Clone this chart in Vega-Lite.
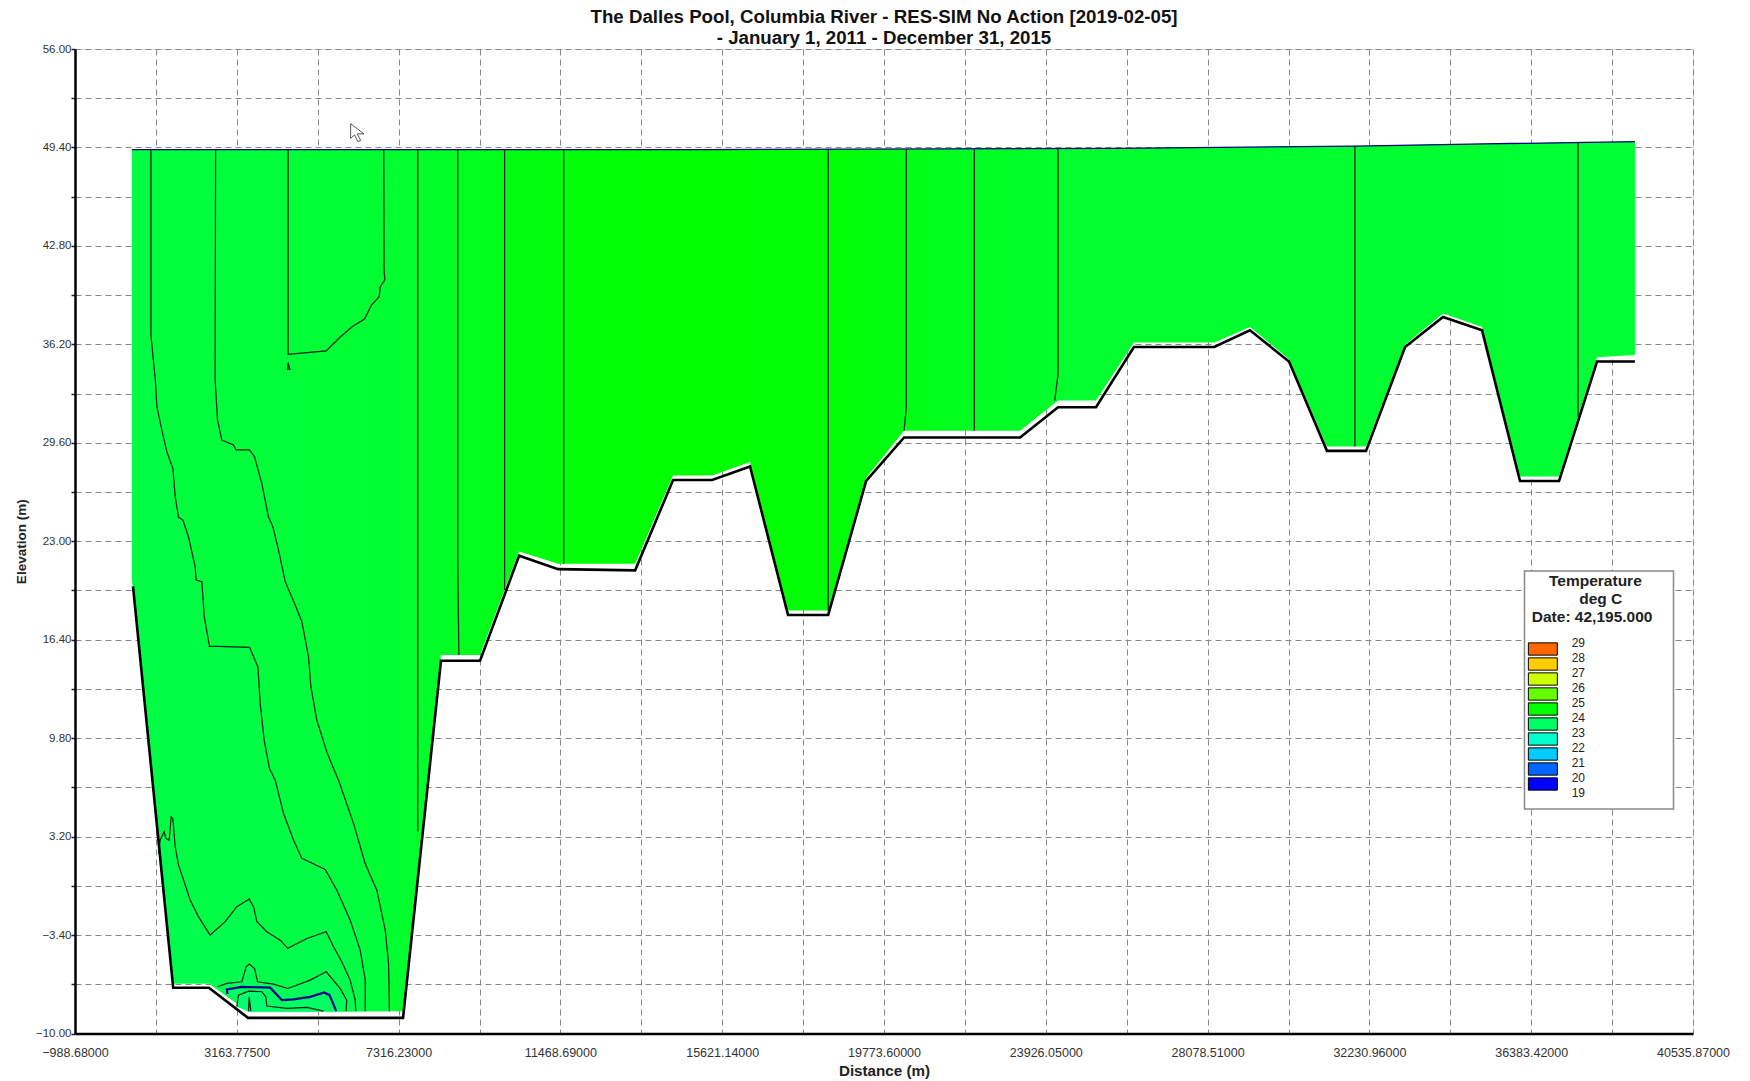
{"$schema":"https://vega.github.io/schema/vega-lite/v6.json","width":1618,"height":984.5,"autosize":{"type":"none"},"padding":{"left":75,"top":49,"right":57,"bottom":47.5},"background":"white",
"config":{"legend":{"strokeWidth":1.5}},
"title":{"text":["The Dalles Pool, Columbia River - RES-SIM No Action [2019-02-05]","- January 1, 2011 - December 31, 2015"],"font":"Liberation Sans","fontSize":18.7,"fontWeight":"bold","color":"#111","anchor":"middle","lineHeight":21,"offset":-5},
"transform":[{"window":[{"op":"row_number","as":"seq"}]}],
"encoding":{"x":{"field":"distance","type":"quantitative","scale":{"domain":[-988.68,40535.87],"nice":false,"zero":false},"title":"Distance (m)","axis":{"values":[-988.68,1087.5475,3163.775,5240.0025,7316.23,9392.46,11468.69,13544.915,15621.14,17697.37,19773.6,21849.825,23926.05,26002.28,28078.51,30154.735,32230.96,34307.19,36383.42,38459.645,40535.87],"labelExpr":"round((datum.value+988.68)/2076.2275)%2==0?format(datum.value,'.5f'):''","labelOverlap":false,"labelFlush":false,"labelBound":false,"labelFont":"Liberation Sans","labelFontSize":12.5,"labelColor":"#333","labelPadding":13,"ticks":false,"domainColor":"#000","domainWidth":2.5,"grid":true,"gridColor":"#888","gridDash":[6,4],"gridWidth":1,"titleFont":"Liberation Sans","titleFontSize":15.2,"titleFontWeight":"bold","titleColor":"#222","titlePadding":4}},
"y":{"field":"elevation","type":"quantitative","scale":{"domain":[-10,56],"nice":false,"zero":false},"title":"Elevation (m)","axis":{"values":[-10,-6.7,-3.4,-0.1,3.2,6.5,9.8,13.1,16.4,19.7,23,26.3,29.6,32.9,36.2,39.5,42.8,46.1,49.4,52.7,56],"labelExpr":"round((datum.value+10)/3.3)%2==0?format(datum.value,'.2f'):''","labelOverlap":false,"labelFlush":false,"labelBound":false,"labelFont":"Liberation Sans","labelFontSize":11.5,"labelColor":"#333","labelPadding":0,"tickColor":"#222","tickSize":4,"tickWidth":1.5,"domainColor":"#000","domainWidth":2.5,"grid":true,"gridColor":"#888","gridDash":[6,4],"gridWidth":1,"titleFont":"Liberation Sans","titleFontSize":13.5,"titleFontWeight":"bold","titleColor":"#222","titlePadding":7}},
"order":{"field":"seq","type":"quantitative"}},
"datasets":{
"section":[{"distance":471.8,"elevation":49.26},{"distance":15133.9,"elevation":49.26},{"distance":25729.6,"elevation":49.34},{"distance":31886.6,"elevation":49.49},{"distance":35179.6,"elevation":49.64},{"distance":39045.8,"elevation":49.79},{"distance":39045.8,"elevation":35.49},{"distance":38072.1,"elevation":35.34},{"distance":37098.5,"elevation":27.34},{"distance":36096.2,"elevation":27.34},{"distance":35122.6,"elevation":37.37},{"distance":34120.2,"elevation":38.26},{"distance":33146.6,"elevation":36.17},{"distance":32144.3,"elevation":29.36},{"distance":31142,"elevation":29.36},{"distance":30168.3,"elevation":35.2},{"distance":29166,"elevation":37.37},{"distance":28249.6,"elevation":36.32},{"distance":26187.8,"elevation":36.32},{"distance":25214.1,"elevation":32.43},{"distance":24240.5,"elevation":32.43},{"distance":23266.8,"elevation":30.41},{"distance":20288.6,"elevation":30.41},{"distance":19314.9,"elevation":27.26},{"distance":18341.3,"elevation":18.36},{"distance":17310.3,"elevation":18.36},{"distance":16336.7,"elevation":28.31},{"distance":15363,"elevation":27.41},{"distance":14360.7,"elevation":27.41},{"distance":13387.1,"elevation":21.5},{"distance":11411.1,"elevation":21.5},{"distance":10408.8,"elevation":22.32},{"distance":9406.5,"elevation":15.37},{"distance":8404.2,"elevation":15.37},{"distance":7430.6,"elevation":-8.5},{"distance":3450,"elevation":-8.5},{"distance":2447.7,"elevation":-6.63},{"distance":1531.3,"elevation":-6.63},{"distance":500.4,"elevation":19.97},{"distance":471.8,"elevation":20.38}],
"bands":[
{"band":"b2","distance":471.8,"elevation":49.26},{"band":"b2","distance":2619.6,"elevation":49.26},{"band":"b2","distance":2608.1,"elevation":33.81},{"band":"b2","distance":2668.2,"elevation":31.13},{"band":"b2","distance":2779.9,"elevation":29.78},{"band":"b2","distance":3077.7,"elevation":29.46},{"band":"b2","distance":3146.5,"elevation":29.12},{"band":"b2","distance":3490.1,"elevation":29.12},{"band":"b2","distance":3619,"elevation":28.67},{"band":"b2","distance":3805.1,"elevation":26.88},{"band":"b2","distance":3976.9,"elevation":24.64},{"band":"b2","distance":4088.6,"elevation":23.98},{"band":"b2","distance":4234.6,"elevation":22.41},{"band":"b2","distance":4406.5,"elevation":20.29},{"band":"b2","distance":4661.3,"elevation":18.72},{"band":"b2","distance":4833.2,"elevation":17.61},{"band":"b2","distance":5005,"elevation":15.26},{"band":"b2","distance":5065.1,"elevation":13.25},{"band":"b2","distance":5216.9,"elevation":11.01},{"band":"b2","distance":5474.6,"elevation":8.88},{"band":"b2","distance":5646.5,"elevation":7.77},{"band":"b2","distance":5772.5,"elevation":6.99},{"band":"b2","distance":6159.1,"elevation":4.09},{"band":"b2","distance":6456.9,"elevation":1.4},{"band":"b2","distance":6757.6,"elevation":-0.39},{"band":"b2","distance":6972.4,"elevation":-3.07},{"band":"b2","distance":7058.3,"elevation":-5.3},{"band":"b2","distance":7081.2,"elevation":-8.5},{"band":"b2","distance":3450,"elevation":-8.5},{"band":"b2","distance":2447.7,"elevation":-6.63},{"band":"b2","distance":1531.3,"elevation":-6.63},{"band":"b2","distance":500.4,"elevation":19.97},{"band":"b2","distance":471.8,"elevation":20.38},
{"band":"b1","distance":471.8,"elevation":49.26},{"band":"b1","distance":958.6,"elevation":49.26},{"band":"b1","distance":958.6,"elevation":36.84},{"band":"b1","distance":1073.1,"elevation":33.81},{"band":"b1","distance":1113.2,"elevation":32.02},{"band":"b1","distance":1239.2,"elevation":30.46},{"band":"b1","distance":1368.1,"elevation":29.01},{"band":"b1","distance":1522.7,"elevation":27.88},{"band":"b1","distance":1582.9,"elevation":25.99},{"band":"b1","distance":1668.8,"elevation":24.6},{"band":"b1","distance":1780.5,"elevation":24.42},{"band":"b1","distance":1923.6,"elevation":23.3},{"band":"b1","distance":2095.5,"elevation":21.29},{"band":"b1","distance":2121.3,"elevation":20.4},{"band":"b1","distance":2267.3,"elevation":20.29},{"band":"b1","distance":2327.4,"elevation":17.94},{"band":"b1","distance":2462,"elevation":15.97},{"band":"b1","distance":3490.1,"elevation":15.89},{"band":"b1","distance":3704.9,"elevation":14.59},{"band":"b1","distance":3765,"elevation":12.13},{"band":"b1","distance":3865.3,"elevation":9.67},{"band":"b1","distance":4002.7,"elevation":7.77},{"band":"b1","distance":4148.8,"elevation":6.98},{"band":"b1","distance":4363.5,"elevation":4.75},{"band":"b1","distance":4618.4,"elevation":2.97},{"band":"b1","distance":4833.2,"elevation":1.74},{"band":"b1","distance":5431.7,"elevation":1},{"band":"b1","distance":5732.4,"elevation":-0.39},{"band":"b1","distance":6073.2,"elevation":-2.4},{"band":"b1","distance":6330.9,"elevation":-4.41},{"band":"b1","distance":6459.8,"elevation":-6.42},{"band":"b1","distance":6459.8,"elevation":-8.5},{"band":"b1","distance":3450,"elevation":-8.5},{"band":"b1","distance":2447.7,"elevation":-6.63},{"band":"b1","distance":1531.3,"elevation":-6.63},{"band":"b1","distance":500.4,"elevation":19.97},{"band":"b1","distance":471.8,"elevation":20.38},
{"band":"b4","distance":1156.2,"elevation":2.07},{"band":"b4","distance":1196.3,"elevation":2.96},{"band":"b4","distance":1299.4,"elevation":3.53},{"band":"b4","distance":1342.3,"elevation":3.08},{"band":"b4","distance":1428.2,"elevation":2.96},{"band":"b4","distance":1479.8,"elevation":4.53},{"band":"b4","distance":1522.7,"elevation":4.42},{"band":"b4","distance":1582.9,"elevation":2.52},{"band":"b4","distance":1668.8,"elevation":1.29},{"band":"b4","distance":1797.6,"elevation":0.29},{"band":"b4","distance":1966.6,"elevation":-1.05},{"band":"b4","distance":2181.4,"elevation":-2.18},{"band":"b4","distance":2479.2,"elevation":-3.4},{"band":"b4","distance":2865.8,"elevation":-2.5},{"band":"b4","distance":3163.6,"elevation":-1.5},{"band":"b4","distance":3481.5,"elevation":-0.99},{"band":"b4","distance":3593.2,"elevation":-1.5},{"band":"b4","distance":3679.1,"elevation":-2.5},{"band":"b4","distance":3934,"elevation":-3.18},{"band":"b4","distance":4277.6,"elevation":-3.74},{"band":"b4","distance":4472.4,"elevation":-4.29},{"band":"b4","distance":4962,"elevation":-3.63},{"band":"b4","distance":5457.5,"elevation":-3.18},{"band":"b4","distance":5646.5,"elevation":-4.19},{"band":"b4","distance":5858.4,"elevation":-5.19},{"band":"b4","distance":6073.2,"elevation":-6.42},{"band":"b4","distance":6202,"elevation":-7.76},{"band":"b4","distance":6219.2,"elevation":-8.5},{"band":"b4","distance":3450,"elevation":-8.5},{"band":"b4","distance":2447.7,"elevation":-6.63},{"band":"b4","distance":1531.3,"elevation":-6.63},
{"band":"b5","distance":2668.2,"elevation":-6.87},{"band":"b5","distance":2908.8,"elevation":-6.64},{"band":"b5","distance":3292.5,"elevation":-6.53},{"band":"b5","distance":3404.2,"elevation":-5.53},{"band":"b5","distance":3481.5,"elevation":-5.35},{"band":"b5","distance":3619,"elevation":-5.64},{"band":"b5","distance":3696.3,"elevation":-6.53},{"band":"b5","distance":4105.8,"elevation":-6.69},{"band":"b5","distance":4472.4,"elevation":-6.98},{"band":"b5","distance":5048,"elevation":-6.42},{"band":"b5","distance":5457.5,"elevation":-5.86},{"band":"b5","distance":5815.4,"elevation":-6.98},{"band":"b5","distance":5984.4,"elevation":-7.76},{"band":"b5","distance":5970.1,"elevation":-8.5},{"band":"b5","distance":3450,"elevation":-8.5},
{"band":"b6","distance":2926,"elevation":-7.36},{"band":"b6","distance":2908.8,"elevation":-7.05},{"band":"b6","distance":3292.5,"elevation":-6.87},{"band":"b6","distance":4019.9,"elevation":-6.93},{"band":"b6","distance":4320.4,"elevation":-7.76},{"band":"b6","distance":4618.4,"elevation":-7.71},{"band":"b6","distance":5048,"elevation":-7.54},{"band":"b6","distance":5405.9,"elevation":-7.25},{"band":"b6","distance":5543.4,"elevation":-7.43},{"band":"b6","distance":5715.2,"elevation":-8.5},{"band":"b6","distance":3450,"elevation":-8.5},
{"band":"b7","distance":3163.6,"elevation":-8.2},{"band":"b7","distance":3206.6,"elevation":-7.43},{"band":"b7","distance":3464.3,"elevation":-7.16},{"band":"b7","distance":3808,"elevation":-7.2},{"band":"b7","distance":3908.2,"elevation":-7.54},{"band":"b7","distance":3934,"elevation":-8.16},{"band":"b7","distance":4449.4,"elevation":-8.32},{"band":"b7","distance":4962,"elevation":-8.25},{"band":"b7","distance":5388.6,"elevation":-8.5},{"band":"b7","distance":3450,"elevation":-8.5}
],
"bed":[{"distance":500.4,"elevation":19.97},{"distance":1531.3,"elevation":-6.93},{"distance":2447.7,"elevation":-6.93},{"distance":3450,"elevation":-8.95},{"distance":7430.6,"elevation":-8.95},{"distance":8404.2,"elevation":14.99},{"distance":9406.5,"elevation":14.99},{"distance":10408.8,"elevation":22.03},{"distance":11411.1,"elevation":21.13},{"distance":13387.1,"elevation":21.05},{"distance":14360.7,"elevation":27.11},{"distance":15363,"elevation":27.11},{"distance":16336.7,"elevation":28.01},{"distance":17310.3,"elevation":18.06},{"distance":18341.3,"elevation":18.06},{"distance":19314.9,"elevation":27.04},{"distance":20288.6,"elevation":29.96},{"distance":23266.8,"elevation":29.96},{"distance":24240.5,"elevation":31.98},{"distance":25214.1,"elevation":31.98},{"distance":26187.8,"elevation":36.02},{"distance":28249.6,"elevation":36.02},{"distance":29166,"elevation":37.14},{"distance":30168.3,"elevation":35.05},{"distance":31142,"elevation":29.06},{"distance":32144.3,"elevation":29.06},{"distance":33146.6,"elevation":36.02},{"distance":34120.2,"elevation":38.04},{"distance":35122.6,"elevation":37.14},{"distance":36096.2,"elevation":27.04},{"distance":37098.5,"elevation":27.04},{"distance":38072.1,"elevation":35.05},{"distance":39045.8,"elevation":35.05}],
"surface":[{"distance":471.8,"elevation":49.26},{"distance":15133.9,"elevation":49.26},{"distance":25729.6,"elevation":49.34},{"distance":31886.6,"elevation":49.49},{"distance":35179.6,"elevation":49.64},{"distance":39045.8,"elevation":49.79}],
"blue":[{"distance":2926,"elevation":-7.36},{"distance":2908.8,"elevation":-7.05},{"distance":3292.5,"elevation":-6.87},{"distance":4019.9,"elevation":-6.93},{"distance":4320.4,"elevation":-7.76},{"distance":4618.4,"elevation":-7.71},{"distance":5048,"elevation":-7.54},{"distance":5405.9,"elevation":-7.25},{"distance":5543.4,"elevation":-7.43},{"distance":5715.2,"elevation":-8.5}],
"contours":[
{"line":"c1","distance":958.6,"elevation":49.26},{"line":"c1","distance":958.6,"elevation":36.84},{"line":"c1","distance":1073.1,"elevation":33.81},{"line":"c1","distance":1113.2,"elevation":32.02},{"line":"c1","distance":1239.2,"elevation":30.46},{"line":"c1","distance":1368.1,"elevation":29.01},{"line":"c1","distance":1522.7,"elevation":27.88},{"line":"c1","distance":1582.9,"elevation":25.99},{"line":"c1","distance":1668.8,"elevation":24.6},{"line":"c1","distance":1780.5,"elevation":24.42},{"line":"c1","distance":1923.6,"elevation":23.3},{"line":"c1","distance":2095.5,"elevation":21.29},{"line":"c1","distance":2121.3,"elevation":20.4},{"line":"c1","distance":2267.3,"elevation":20.29},{"line":"c1","distance":2327.4,"elevation":17.94},{"line":"c1","distance":2462,"elevation":15.97},{"line":"c1","distance":3490.1,"elevation":15.89},{"line":"c1","distance":3704.9,"elevation":14.59},{"line":"c1","distance":3765,"elevation":12.13},{"line":"c1","distance":3865.3,"elevation":9.67},{"line":"c1","distance":4002.7,"elevation":7.77},{"line":"c1","distance":4148.8,"elevation":6.98},{"line":"c1","distance":4363.5,"elevation":4.75},{"line":"c1","distance":4618.4,"elevation":2.97},{"line":"c1","distance":4833.2,"elevation":1.74},{"line":"c1","distance":5431.7,"elevation":1},{"line":"c1","distance":5732.4,"elevation":-0.39},{"line":"c1","distance":6073.2,"elevation":-2.4},{"line":"c1","distance":6330.9,"elevation":-4.41},{"line":"c1","distance":6459.8,"elevation":-6.42},{"line":"c1","distance":6459.8,"elevation":-8.5},
{"line":"c2","distance":2619.6,"elevation":49.26},{"line":"c2","distance":2608.1,"elevation":33.81},{"line":"c2","distance":2668.2,"elevation":31.13},{"line":"c2","distance":2779.9,"elevation":29.78},{"line":"c2","distance":3077.7,"elevation":29.46},{"line":"c2","distance":3146.5,"elevation":29.12},{"line":"c2","distance":3490.1,"elevation":29.12},{"line":"c2","distance":3619,"elevation":28.67},{"line":"c2","distance":3805.1,"elevation":26.88},{"line":"c2","distance":3976.9,"elevation":24.64},{"line":"c2","distance":4088.6,"elevation":23.98},{"line":"c2","distance":4234.6,"elevation":22.41},{"line":"c2","distance":4406.5,"elevation":20.29},{"line":"c2","distance":4661.3,"elevation":18.72},{"line":"c2","distance":4833.2,"elevation":17.61},{"line":"c2","distance":5005,"elevation":15.26},{"line":"c2","distance":5065.1,"elevation":13.25},{"line":"c2","distance":5216.9,"elevation":11.01},{"line":"c2","distance":5474.6,"elevation":8.88},{"line":"c2","distance":5646.5,"elevation":7.77},{"line":"c2","distance":5772.5,"elevation":6.99},{"line":"c2","distance":6159.1,"elevation":4.09},{"line":"c2","distance":6456.9,"elevation":1.4},{"line":"c2","distance":6757.6,"elevation":-0.39},{"line":"c2","distance":6972.4,"elevation":-3.07},{"line":"c2","distance":7058.3,"elevation":-5.3},{"line":"c2","distance":7081.2,"elevation":-8.5},
{"line":"c3","distance":4480.9,"elevation":49.26},{"line":"c3","distance":4480.9,"elevation":35.53},{"line":"c3","distance":5454.6,"elevation":35.76},{"line":"c3","distance":5826.9,"elevation":36.71},{"line":"c3","distance":6130.4,"elevation":37.39},{"line":"c3","distance":6442.6,"elevation":37.9},{"line":"c3","distance":6620.1,"elevation":38.84},{"line":"c3","distance":6817.7,"elevation":39.4},{"line":"c3","distance":6846.4,"elevation":40.07},{"line":"c3","distance":6963.8,"elevation":40.52},{"line":"c3","distance":6943.7,"elevation":41.18},{"line":"c3","distance":6935,"elevation":49.26},
{"line":"c3b","distance":4480.9,"elevation":34.97},{"line":"c3b","distance":4523.9,"elevation":34.52},{"line":"c3b","distance":4466.6,"elevation":34.52},{"line":"c3b","distance":4480.9,"elevation":34.97},
{"line":"v374","distance":7808,"elevation":49.26},{"line":"v374","distance":7808,"elevation":3.54},
{"line":"v410","distance":8833.8,"elevation":49.26},{"line":"v410","distance":8833.8,"elevation":21.65},{"line":"v410","distance":8862.4,"elevation":15.37},
{"line":"v452","distance":10036.5,"elevation":49.26},{"line":"v452","distance":10036.5,"elevation":19.74},
{"line":"v505","distance":11554.3,"elevation":49.26},{"line":"v505","distance":11554.3,"elevation":21.5},
{"line":"v742","distance":18341.3,"elevation":49.26},{"line":"v742","distance":18341.3,"elevation":18.36},
{"line":"v812","distance":20345.8,"elevation":49.26},{"line":"v812","distance":20345.8,"elevation":31.98},{"line":"v812","distance":20288.6,"elevation":30.41},
{"line":"v873","distance":22092.3,"elevation":49.28},{"line":"v873","distance":22092.3,"elevation":30.41},
{"line":"v948","distance":24240.5,"elevation":49.34},{"line":"v948","distance":24240.5,"elevation":34.22},{"line":"v948","distance":24154.6,"elevation":32.43},
{"line":"v1214","distance":31857.9,"elevation":49.49},{"line":"v1214","distance":31857.9,"elevation":29.36},
{"line":"v1414","distance":37585.3,"elevation":49.71},{"line":"v1414","distance":37585.3,"elevation":31.34},
{"line":"c4","distance":1156.2,"elevation":2.07},{"line":"c4","distance":1196.3,"elevation":2.96},{"line":"c4","distance":1299.4,"elevation":3.53},{"line":"c4","distance":1342.3,"elevation":3.08},{"line":"c4","distance":1428.2,"elevation":2.96},{"line":"c4","distance":1479.8,"elevation":4.53},{"line":"c4","distance":1522.7,"elevation":4.42},{"line":"c4","distance":1582.9,"elevation":2.52},{"line":"c4","distance":1668.8,"elevation":1.29},{"line":"c4","distance":1797.6,"elevation":0.29},{"line":"c4","distance":1966.6,"elevation":-1.05},{"line":"c4","distance":2181.4,"elevation":-2.18},{"line":"c4","distance":2479.2,"elevation":-3.4},{"line":"c4","distance":2865.8,"elevation":-2.5},{"line":"c4","distance":3163.6,"elevation":-1.5},{"line":"c4","distance":3481.5,"elevation":-0.99},{"line":"c4","distance":3593.2,"elevation":-1.5},{"line":"c4","distance":3679.1,"elevation":-2.5},{"line":"c4","distance":3934,"elevation":-3.18},{"line":"c4","distance":4277.6,"elevation":-3.74},{"line":"c4","distance":4472.4,"elevation":-4.29},{"line":"c4","distance":4962,"elevation":-3.63},{"line":"c4","distance":5457.5,"elevation":-3.18},{"line":"c4","distance":5646.5,"elevation":-4.19},{"line":"c4","distance":5858.4,"elevation":-5.19},{"line":"c4","distance":6073.2,"elevation":-6.42},{"line":"c4","distance":6202,"elevation":-7.76},{"line":"c4","distance":6219.2,"elevation":-8.5},
{"line":"c5","distance":2668.2,"elevation":-6.87},{"line":"c5","distance":2908.8,"elevation":-6.64},{"line":"c5","distance":3292.5,"elevation":-6.53},{"line":"c5","distance":3404.2,"elevation":-5.53},{"line":"c5","distance":3481.5,"elevation":-5.35},{"line":"c5","distance":3619,"elevation":-5.64},{"line":"c5","distance":3696.3,"elevation":-6.53},{"line":"c5","distance":4105.8,"elevation":-6.69},{"line":"c5","distance":4472.4,"elevation":-6.98},{"line":"c5","distance":5048,"elevation":-6.42},{"line":"c5","distance":5457.5,"elevation":-5.86},{"line":"c5","distance":5815.4,"elevation":-6.98},{"line":"c5","distance":5984.4,"elevation":-7.76},{"line":"c5","distance":5970.1,"elevation":-8.5},
{"line":"c7","distance":3163.6,"elevation":-8.2},{"line":"c7","distance":3206.6,"elevation":-7.43},{"line":"c7","distance":3464.3,"elevation":-7.16},{"line":"c7","distance":3808,"elevation":-7.2},{"line":"c7","distance":3908.2,"elevation":-7.54},{"line":"c7","distance":3934,"elevation":-8.16},{"line":"c7","distance":4449.4,"elevation":-8.32},{"line":"c7","distance":4962,"elevation":-8.25},{"line":"c7","distance":5388.6,"elevation":-8.5},
{"line":"c8","distance":3464.3,"elevation":-8.5},{"line":"c8","distance":3481.5,"elevation":-7.54},{"line":"c8","distance":3524.5,"elevation":-8.5}
],
"cursor":[{"distance":6084.7,"elevation":50.99},{"distance":6084.7,"elevation":50.01},{"distance":6184.9,"elevation":50.24},{"distance":6270.8,"elevation":49.79},{"distance":6342.4,"elevation":49.87},{"distance":6256,"elevation":50.31},{"distance":6428.3,"elevation":50.31},{"distance":6084.7,"elevation":50.99}],
"temperatures":[{"temperature":29},{"temperature":28},{"temperature":27},{"temperature":26},{"temperature":25},{"temperature":24},{"temperature":23},{"temperature":22},{"temperature":21},{"temperature":20},{"temperature":19}]
},
"layer":[
{"data":{"name":"section"},"mark":{"type":"line","stroke":null,"fill":{"gradient":"linear","x1":0,"x2":1,"y1":0,"y2":0,"stops":[{"offset":0,"color":"#00FF44"},{"offset":0.056,"color":"#00FF3C"},{"offset":0.167,"color":"#00FF30"},{"offset":0.19,"color":"#00FF2C"},{"offset":0.217,"color":"#00FF22"},{"offset":0.248,"color":"#00FF16"},{"offset":0.287,"color":"#00FF08"},{"offset":0.358,"color":"#00FF00"},{"offset":0.463,"color":"#00FF04"},{"offset":0.515,"color":"#00FF14"},{"offset":0.56,"color":"#00FF20"},{"offset":0.616,"color":"#00FF2C"},{"offset":0.814,"color":"#00FF2E"},{"offset":1,"color":"#00FF34"}]}}},
{"data":{"name":"bands"},"mark":{"type":"line","stroke":null},"encoding":{"fill":{"field":"band","type":"nominal","legend":null,"scale":{"domain":["b2","b1","b4","b5","b6","b7"],"range":["#00FF3C","#00FF44","#00FF4C","#00FF58","#00FF62","#00FF70"]}}}},
{"data":{"name":"contours"},"mark":{"type":"line","stroke":"#06200c","strokeWidth":1.2,"strokeCap":"butt"},"encoding":{"detail":{"field":"line","type":"nominal"}}},
{"data":{"name":"blue"},"mark":{"type":"line","stroke":"#000090","strokeWidth":2.2}},
{"data":{"name":"bed"},"mark":{"type":"line","stroke":"#000","strokeWidth":2.6}},
{"data":{"name":"surface"},"mark":{"type":"line","stroke":"#000080","strokeWidth":1.3}},
{"data":{"name":"cursor"},"mark":{"type":"line","stroke":"#444","strokeWidth":0.9,"fill":"white"}},
{"data":{"name":"temperatures"},"mark":{"type":"point","filled":true},"encoding":{"color":{"field":"temperature","type":"ordinal","scale":{"domain":[29,28,27,26,25,24,23,22,21,20,19],"range":["#FF6600","#FFCC00","#CCFF00","#66FF00","#00FF00","#00FF66","#00FFCC","#00CCFF","#0066FF","#0000FF","transparent"]},"legend":{"type":"symbol","orient":"none","legendX":1449.5,"legendY":522,"title":["\u200b\u00a0\u00a0\u00a0\u00a0\u00a0Temperature","\u200b\u00a0\u00a0\u00a0\u00a0\u00a0\u00a0\u00a0\u00a0\u00a0\u00a0\u00a0\u00a0deg C","\u200b\u00a0Date: 42,195.000\u00a0\u00a0\u00a0\u00a0\u200b"],"titleFont":"Liberation Sans","titleFontSize":15.5,"titleFontWeight":"bold","titleColor":"#222","titleLineHeight":18,"titleAlign":"left","titleAnchor":"start","titlePadding":17,"symbolType":"M-2.566,-1.088H2.566V1.088H-2.566Z","symbolSize":127.7,"symbolStrokeColor":"#000","symbolStrokeWidth":1,"symbolOpacity":1,"symbolOffset":8.85,"rowPadding":-9.2,"labelFont":"Liberation Sans","labelFontSize":12,"labelColor":"#222","labelOffset":22.35,"labelOverlap":false,"padding":3,"strokeColor":"#888","fillColor":"white","encode":{"labels":{"update":{"dy":{"value":-6}}},"symbols":{"update":{"strokeOpacity":{"signal":"datum.value==19?0:1"}}}}}}}}
]}
